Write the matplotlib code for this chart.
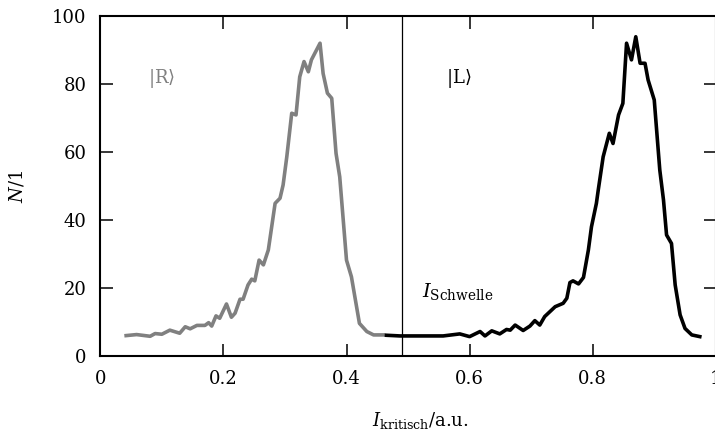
import matplotlib
matplotlib.use("Agg")
import matplotlib.pyplot as plt

# |R> state (gray)
r_x = [0.042, 0.059, 0.081, 0.089, 0.100, 0.113, 0.129, 0.138, 0.146, 0.157, 0.170, 0.176,
       0.181, 0.188, 0.194, 0.205, 0.213, 0.219, 0.227, 0.232, 0.240, 0.246, 0.251, 0.258,
       0.265, 0.273, 0.284, 0.292, 0.297, 0.303, 0.311, 0.318, 0.324, 0.331, 0.338, 0.343,
       0.357, 0.362, 0.369, 0.376, 0.383, 0.389, 0.400, 0.408, 0.421, 0.433, 0.444, 0.460]
r_y = [6.0, 6.3, 5.8, 6.6, 6.4, 7.6, 6.7, 8.6, 8.0, 9.0, 9.0, 9.8,
       8.8, 11.8, 11.1, 15.3, 11.4, 12.6, 16.7, 16.7, 20.9, 22.6, 22.1, 28.2,
       26.8, 31.2, 44.9, 46.4, 50.3, 58.6, 71.4, 70.9, 82.1, 86.6, 83.6, 87.1,
       92.0, 83.1, 77.3, 75.8, 59.6, 52.7, 28.2, 23.3, 9.6, 7.2, 6.2, 6.2]

# |L> state (black)
l_x = [0.465, 0.487, 0.519, 0.557, 0.584, 0.600, 0.617, 0.625, 0.636, 0.649, 0.660, 0.666,
       0.674, 0.687, 0.698, 0.706, 0.714, 0.722, 0.739, 0.752, 0.758, 0.763, 0.768, 0.777,
       0.785, 0.793, 0.798, 0.806, 0.809, 0.817, 0.827, 0.833, 0.842, 0.849, 0.855, 0.863,
       0.870, 0.877, 0.885, 0.890, 0.900, 0.909, 0.915, 0.920, 0.928, 0.934, 0.942, 0.950,
       0.961, 0.974]
l_y = [6.1, 5.9, 5.9, 5.9, 6.5, 5.7, 7.2, 5.9, 7.4, 6.5, 7.8, 7.6,
       9.1, 7.5, 8.8, 10.4, 9.1, 11.6, 14.5, 15.5, 17.0, 21.6, 22.1, 21.2,
       23.1, 31.2, 38.0, 44.9, 48.8, 58.6, 65.5, 62.5, 70.9, 74.3, 92.0, 87.1,
       93.9, 86.1, 86.1, 81.2, 75.3, 54.7, 45.9, 35.6, 33.1, 20.9, 12.1, 8.1,
       6.2, 5.7]

threshold = 0.49
x_ticks = [0, 0.2, 0.4, 0.6, 0.8, 1]
x_ticklabels = ["0", "0.2", "0.4", "0.6", "0.8", "1"]
y_ticks = [0, 20, 40, 60, 80, 100]

plt.rcParams['font.family'] = ['DejaVu Serif']
plt.rcParams['mathtext.fontset'] = 'dejavuserif'

fig = plt.figure(figsize=(7.15, 4.34), dpi=100)
W, H = 715, 434
ax = fig.add_axes([100.3 / W, (H - 356) / H, 615.5 / W, 340 / H])

ax.plot(r_x, r_y, color='#808080', lw=2.6, solid_joinstyle='round')
ax.plot(l_x, l_y, color='black', lw=2.6, solid_joinstyle='round')
ax.axvline(threshold, color='black', lw=0.9)

ax.set_xlim(0, 1)
ax.set_ylim(0, 100)
ax.set_xticks(x_ticks)
ax.set_xticklabels(x_ticklabels)
ax.set_yticks(y_ticks)
ax.tick_params(direction='in', length=9, width=1.1, top=True, right=True,
               labelsize=13, pad=10)
for s in ax.spines.values():
    s.set_linewidth(1.5)

ax.text(0.078, 81.5, r'$|\mathrm{R}\rangle$', color='#808080', fontsize=13,
        ha='left', va='center')
ax.text(0.562, 81.5, r'$|\mathrm{L}\rangle$', color='black', fontsize=13,
        ha='left', va='center')
ax.text(0.523, 19, r'$I_{\mathrm{Schwelle}}$', color='black', fontsize=14,
        ha='left', va='center')

ax.set_ylabel(r'$N/1$', fontsize=13, labelpad=18)
ax.set_xlabel(r'$I_{\mathrm{kritisch}}$/a.u.', fontsize=13, labelpad=10)
ax.xaxis.set_label_coords((420 - 100.3) / 615.5, -0.16)

fig.savefig('out.png', dpi=100)
